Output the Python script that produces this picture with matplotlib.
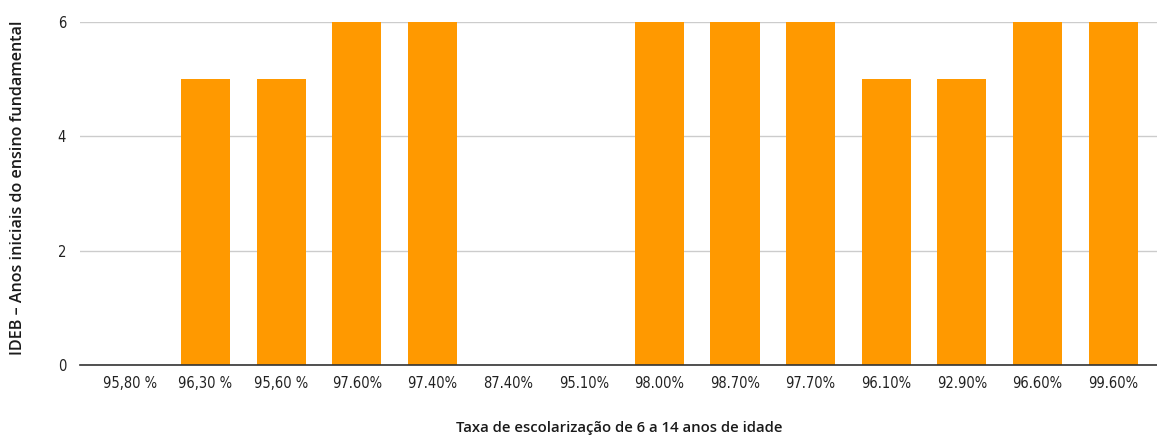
import matplotlib
matplotlib.use("Agg")
import matplotlib.pyplot as plt

categories = ["95,80 %", "96,30 %", "95,60 %", "97.60%", "97.40%", "87.40%", "95.10%",
              "98.00%", "98.70%", "97.70%", "96.10%", "92.90%", "96.60%", "99.60%"]
ideb = [0, 5, 5, 6, 6, 0, 0, 6, 6, 6, 5, 5, 6, 6]
y_ticks = [0, 2, 4, 6]

W, H = 1157, 437
fig = plt.figure(figsize=(W / 100, H / 100), dpi=100)
ax = fig.add_axes([80 / W, 1 - 365 / H, 1 - 80 / W, (365 - 22) / H])

x = list(range(len(categories)))
ax.bar(x, ideb, width=0.65, color="#ff9900", zorder=2)

ax.set_xlim(-0.66, len(categories) - 1 + 0.58)
ax.set_ylim(0, 6)
ax.set_yticks(y_ticks)
ax.yaxis.grid(True, color="#cccccc", linewidth=1, zorder=0)
ax.set_axisbelow(True)

for s in ["top", "right", "left"]:
    ax.spines[s].set_visible(False)
ax.spines["bottom"].set_color("#333333")
ax.spines["bottom"].set_linewidth(1.2)
ax.spines["bottom"].set_zorder(3)

tick_font = dict(family="DejaVu Sans", stretch="condensed", size=10.5, color="#222222")
ax.set_xticks(x)
ax.set_xticklabels(categories, **tick_font)
ax.set_yticklabels([str(v) for v in y_ticks], **tick_font)
ax.tick_params(axis="both", length=0, pad=8)
ax.tick_params(axis="y", pad=10)

title_font = dict(family="Open Sans", fontweight="semibold", color="#1a1a1a")
fig.text(619 / W, 1 - 428 / H, "Taxa de escolarização de 6 a 14 anos de idade",
         ha="center", va="center", fontsize=10.75, **title_font)
fig.text(18 / W, 1 - 188 / H, "IDEB – Anos iniciais do ensino fundamental",
         rotation=90, ha="center", va="center", fontsize=11.65, **title_font)

fig.savefig("out.png", dpi=100)
